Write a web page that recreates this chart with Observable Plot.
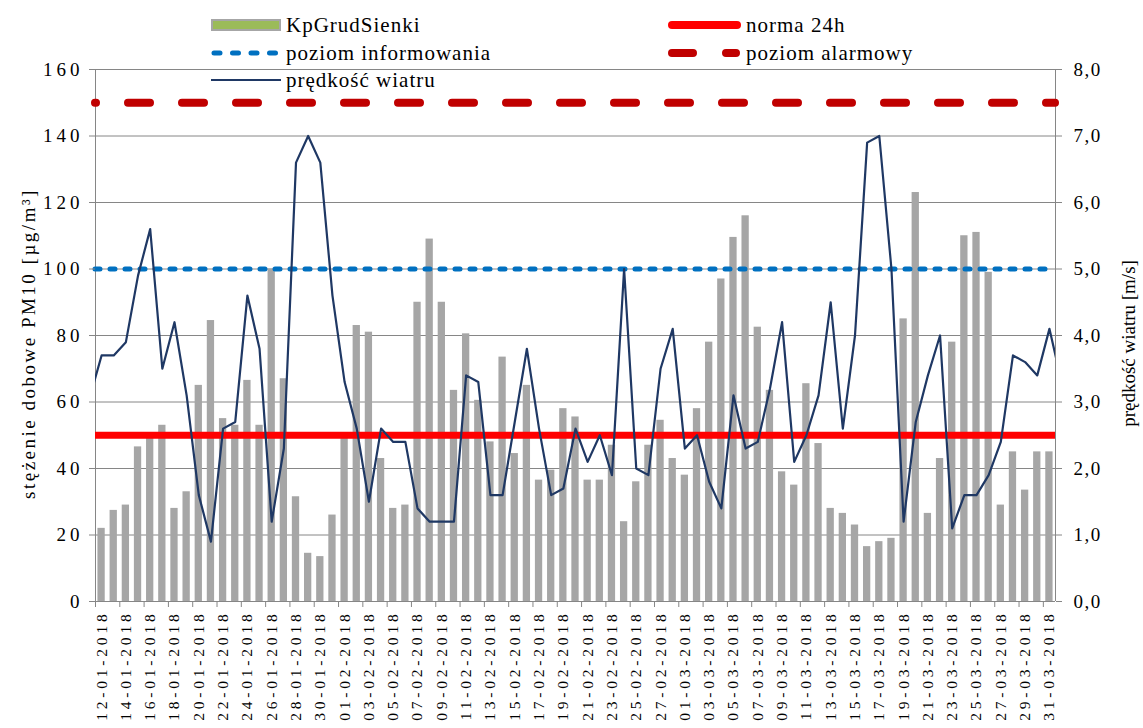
<!DOCTYPE html>
<html><head><meta charset="utf-8">
<script src="https://cdn.jsdelivr.net/npm/d3@7"></script>
<script src="https://cdn.jsdelivr.net/npm/@observablehq/plot@0.6"></script>
<style>
body{margin:0;background:#fff;}
#wrap{position:relative;width:1143px;height:728px;font-family:"Liberation Serif","Times New Roman",serif;}
#chart svg{display:block;}
.leg{position:absolute;display:flex;align-items:center;font-size:21px;letter-spacing:1px;color:#000;white-space:nowrap;transform:translateY(-50%);line-height:1;}
.leg svg{margin-right:5px;display:block;}
</style></head><body>
<div id="wrap"><div id="chart"></div></div>
<script>
const dates = [
"12-01-2018","13-01-2018","14-01-2018","15-01-2018","16-01-2018","17-01-2018","18-01-2018","19-01-2018","20-01-2018","21-01-2018",
"22-01-2018","23-01-2018","24-01-2018","25-01-2018","26-01-2018","27-01-2018","28-01-2018","29-01-2018","30-01-2018","31-01-2018",
"01-02-2018","02-02-2018","03-02-2018","04-02-2018","05-02-2018","06-02-2018","07-02-2018","08-02-2018","09-02-2018","10-02-2018",
"11-02-2018","12-02-2018","13-02-2018","14-02-2018","15-02-2018","16-02-2018","17-02-2018","18-02-2018","19-02-2018","20-02-2018",
"21-02-2018","22-02-2018","23-02-2018","24-02-2018","25-02-2018","26-02-2018","27-02-2018","28-02-2018",
"01-03-2018","02-03-2018","03-03-2018","04-03-2018","05-03-2018","06-03-2018","07-03-2018","08-03-2018","09-03-2018","10-03-2018",
"11-03-2018","12-03-2018","13-03-2018","14-03-2018","15-03-2018","16-03-2018","17-03-2018","18-03-2018","19-03-2018","20-03-2018",
"21-03-2018","22-03-2018","23-03-2018","24-03-2018","25-03-2018","26-03-2018","27-03-2018","28-03-2018","29-03-2018","30-03-2018","31-03-2018"
];
// PM10 daily concentration (KpGrudSienki), µg/m3
const pm10 = [
22,27.4,29,46.5,49.5,53,28,33,65,84.5,
55,53,66.5,53,100,67,31.5,14.5,13.5,26,
49.5,83,81,43,28,29,90,109,90,63.5,
80.5,60.5,48,73.5,44.5,65,36.5,39.5,58,55.5,
36.5,36.5,47,24,36,47,54.5,43,
38,58,78,97,109.5,116,82.5,63.5,39,35,
65.5,47.5,28,26.5,23,16.5,18,19,85,123,
26.5,43,78,110,111,99,29,45,33.5,45,45
];
// wind speed, m/s
const wind = [
3.7,3.7,3.9,4.9,5.6,3.5,4.2,3.1,1.6,0.9,
2.6,2.7,4.6,3.8,1.2,2.3,6.6,7.0,6.6,4.6,
3.3,2.6,1.5,2.6,2.4,2.4,1.4,1.2,1.2,1.2,
3.4,3.3,1.6,1.6,2.7,3.8,2.6,1.6,1.7,2.6,
2.1,2.5,1.9,5.0,2.0,1.9,3.5,4.1,
2.3,2.5,1.8,1.4,3.1,2.3,2.4,3.2,4.2,2.1,
2.5,3.1,4.5,2.6,4.0,6.9,7.0,5.0,1.2,2.7,
3.4,4.0,1.1,1.6,1.6,1.9,2.4,3.7,3.6,3.4,4.1
];
// wind values of the days just outside the shown range (line is clipped at the frame)
const windBefore = 3.05;
const windAfter = 3.3;
const normaValue = 50;
const informowaniaValue = 100;
const alarmowyValue = 150;
const yTicks = [0,20,40,60,80,100,120,140,160];
const seriesNames = ["KpGrudSienki","norma 24h","poziom informowania","poziom alarmowy","prędkość wiatru"];
const leftTitle = "stężenie dobowe PM10 [µg/m³]";
const rightTitle = "prędkość wiatru [m/s]";

const n = dates.length;
const rows = dates.map((date, i) => ({i, date, pm: pm10[i]}));
const windRows = [{x: -0.5, w: windBefore}, ...wind.map((w, i) => ({x: i + 0.5, w})), {x: n + 0.5, w: windAfter}];
const tickIdx = d3.range(0, n, 2);
const grey = "#868686";

const chart = Plot.plot({
  width: 1143, height: 728,
  marginLeft: 95, marginRight: 88, marginTop: 69, marginBottom: 127,
  style: {fontFamily: "'Liberation Serif', 'Times New Roman', serif", fontSize: "18px", color: "#000", background: "#fff"},
  x: {type: "linear", domain: [0, n], axis: null, label: null},
  y: {domain: [0, 160], axis: null, label: null},
  marks: [
    Plot.gridY(yTicks, {stroke: grey, strokeOpacity: 1, strokeWidth: 1}),
    Plot.ruleX([0, n], {stroke: grey}),
    Plot.ruleY([0], {stroke: grey}),
    Plot.rectY(rows, {x1: d => d.i + 0.2, x2: d => d.i + 0.8, y1: 0, y2: "pm", fill: "#A6A6A6"}),
    Plot.ruleY([normaValue], {stroke: "#FF0000", strokeWidth: 7}),
    Plot.ruleY([informowaniaValue], {stroke: "#0070C0", strokeWidth: 5, strokeDasharray: "5,10", strokeLinecap: "round"}),
    Plot.ruleY([alarmowyValue], {stroke: "#C00000", strokeWidth: 8, strokeDasharray: "22,32", strokeDashoffset: 21, strokeLinecap: "round"}),
    Plot.line(windRows, {x: "x", y: d => d.w * 20, stroke: "#1F3864", strokeWidth: 2.2, clip: true}),
    Plot.axisY(yTicks, {anchor: "left", tickSize: 6, tickPadding: 6, stroke: grey, fontSize: 19, label: null, className: "yl"}),
    Plot.axisY(yTicks, {anchor: "right", tickSize: 6, tickPadding: 12, stroke: grey, fontSize: 19, label: null,
      tickFormat: d => (d / 20).toFixed(1).replace(".", ","), className: "yr"}),
    Plot.axisX(tickIdx, {anchor: "bottom", tickSize: 6, stroke: grey, tickFormat: () => "", label: null}),
    Plot.axisX(tickIdx.map(i => i + 0.5), {anchor: "bottom", tickSize: 0, tickPadding: 9, tickRotate: -90, fontSize: 15.5,
      tickFormat: v => dates[Math.round(v - 0.5)], label: null, className: "xl"}),
    Plot.text([leftTitle], {frameAnchor: "left", dx: -67, dy: 8, rotate: -90, textAnchor: "middle", fontSize: 19, className: "lt"}),
    Plot.text([rightTitle], {frameAnchor: "right", dx: 73, dy: 8, rotate: -90, textAnchor: "middle", fontSize: 19, className: "rt"})
  ]
});
document.getElementById("chart").appendChild(chart);
chart.querySelectorAll(".yl text").forEach(t => t.style.letterSpacing = "4px");
chart.querySelectorAll(".yr text").forEach(t => t.style.letterSpacing = "1.5px");
chart.querySelectorAll(".xl text").forEach(t => t.style.letterSpacing = "3.8px");
chart.querySelectorAll(".lt text").forEach(t => t.style.letterSpacing = "2.5px");

// legend (HTML overlay)
const legendLayout = [
  {name: seriesNames[0], kind: "bar", left: 211, cy: 25, w: 70},
  {name: seriesNames[2], kind: "info", left: 211, cy: 53, w: 70},
  {name: seriesNames[4], kind: "wind", left: 211, cy: 80, w: 70},
  {name: seriesNames[1], kind: "norma", left: 668, cy: 25, w: 73},
  {name: seriesNames[3], kind: "alarm", left: 668, cy: 53, w: 73}
];
const wrap = document.getElementById("wrap");
for (const it of legendLayout) {
  const div = document.createElement("div");
  div.className = "leg";
  div.style.left = it.left + "px";
  div.style.top = it.cy + "px";
  let sw = "";
  const W = it.w;
  if (it.kind === "bar") sw = `<rect x="1" y="6" width="${W - 2}" height="10" fill="#9BBB59" stroke="#A6A6A6" stroke-width="2"/>`;
  if (it.kind === "info") sw = `<line x1="3" x2="${W - 3}" y1="11" y2="11" stroke="#0070C0" stroke-width="5" stroke-linecap="round" stroke-dasharray="6,12.5"/>`;
  if (it.kind === "wind") sw = `<line x1="0" x2="${W}" y1="11" y2="11" stroke="#1F3864" stroke-width="2"/>`;
  if (it.kind === "norma") sw = `<line x1="4" x2="${W - 4}" y1="11" y2="11" stroke="#FF0000" stroke-width="8" stroke-linecap="round"/>`;
  if (it.kind === "alarm") sw = `<line x1="4" x2="${W - 5}" y1="11" y2="11" stroke="#C00000" stroke-width="8" stroke-linecap="round" stroke-dasharray="21,33"/>`;
  div.innerHTML = `<svg width="${W}" height="22">${sw}</svg><span>${it.name}</span>`;
  wrap.appendChild(div);
}
</script>
</body></html>
